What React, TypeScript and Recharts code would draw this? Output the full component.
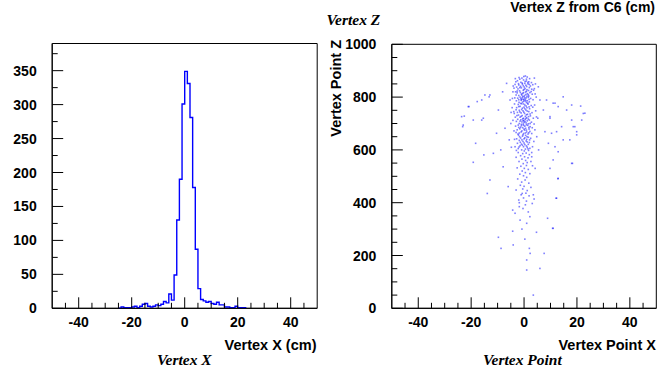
import React from 'react';
import { LineChart, Line, XAxis, YAxis, ReferenceArea, ScatterChart, Scatter } from 'recharts';

// ---------- Histogram: Vertex X ----------
const binLow = [-25, -24, -23, -22, -21, -20, -19, -18, -17, -16, -15, -14, -13, -12, -11, -10, -9, -8, -7, -6, -5, -4, -3, -2, -1, 0, 1, 2, 3, 4, 5, 6, 7, 8, 9, 10, 11, 12, 13, 14, 15, 16, 17, 18, 19, 20, 21, 22, 23];
const binCount = [0, 2, 1, 1, 1, 2, 3, 1, 3, 6, 7, 3, 2, 3, 5, 4, 6, 10, 8, 21, 12, 49, 130, 190, 301, 349, 331, 281, 178, 87, 29, 13, 11, 9, 10, 7, 6, 9, 5, 5, 2, 2, 1, 1, 3, 1, 1, 1, 0];

const xTicks = [-45, -40, -35, -30, -25, -20, -15, -10, -5, 0, 5, 10, 15, 20, 25, 30, 35, 40, 45];
const xLabels = [-40, -20, 0, 20, 40];
const histYTicks = [0, 25, 50, 75, 100, 125, 150, 175, 200, 225, 250, 275, 300, 325, 350, 375];
const histYLabels = [0, 50, 100, 150, 200, 250, 300, 350];

// ---------- Scatter: Vertex Point X vs Z ----------
const scatterYTicks = [0, 50, 100, 150, 200, 250, 300, 350, 400, 450, 500, 550, 600, 650, 700, 750, 800, 850, 900, 950, 1000];
const scatterYLabels = [0, 200, 400, 600, 800, 1000];

const coreHits: [number, number][] = [
  [0.5, 880], [-0.8, 872], [1.2, 876], [-1.6, 868], [2.1, 870],
  [-2.5, 862], [-0.2, 865], [0.9, 861], [1.8, 858], [-3.1, 858], [-1.2, 856], [2.8, 855], [0.3, 852],
  [-3.4, 848], [-2.0, 846], [-0.6, 849], [0.7, 845], [1.5, 850], [2.4, 842], [3.3, 847], [-1.3, 841], [-2.8, 838], [0.1, 838],
  [-3.8, 834], [-2.3, 831], [-1.0, 835], [0.4, 832], [1.1, 828], [2.0, 836], [2.9, 830], [-0.3, 826], [-1.7, 824], [3.6, 826],
  [-3.2, 820], [-2.6, 816], [-1.4, 818], [-0.5, 814], [0.6, 819], [1.3, 813], [2.2, 817], [3.1, 811], [-0.9, 808], [0.2, 806], [-2.0, 806], [1.8, 804],
  [-1.5, 800], [-0.7, 798], [0.0, 801], [0.8, 797], [1.6, 799], [-2.4, 796], [2.5, 795], [-3.5, 797], [-0.3, 792], [0.5, 790], [-1.1, 788], [1.2, 786], [3.4, 790], [-2.9, 786], [-0.1, 784], [2.0, 782], [-1.9, 780], [0.9, 779],
  [-3.6, 774], [-2.2, 772], [-0.9, 775], [0.3, 770], [1.5, 773], [2.7, 768], [-1.5, 765], [0.0, 762], [-0.6, 758], [1.1, 760], [-2.8, 760], [3.3, 762], [2.1, 756],
  [-3.0, 752], [-1.8, 750], [-0.4, 748], [0.7, 751], [1.8, 745], [-2.5, 742], [-1.1, 740], [0.2, 738], [3.0, 741], [-3.7, 738], [1.3, 735],
  [-2.1, 732], [-0.7, 730], [0.5, 727], [2.4, 729], [-1.5, 724], [-0.2, 720], [1.0, 722], [-3.3, 724], [3.5, 720],
  [-2.4, 716], [-1.2, 714], [-0.4, 712], [0.4, 715], [1.2, 710], [2.0, 713], [-0.8, 706], [0.0, 704], [0.8, 702], [-1.8, 700], [1.6, 699], [2.8, 705], [-2.9, 708], [-0.3, 698],
  [-2.2, 694], [-1.0, 692], [0.3, 690], [1.4, 693], [2.3, 688], [-3.2, 690], [-0.5, 684], [0.6, 682], [-1.6, 680], [1.9, 679], [3.1, 684],
  [-2.6, 676], [-0.8, 672], [0.2, 675], [1.0, 668], [2.2, 670], [-1.8, 664], [-0.2, 662], [1.5, 660], [-3.0, 666], [2.9, 662],
  [-2.1, 656], [-0.6, 652], [0.6, 655], [1.6, 648], [-1.3, 645], [0.0, 642], [2.5, 644], [-2.8, 642], [1.0, 640],
  [-1.8, 636], [-0.4, 632], [0.8, 634], [2.0, 628], [-2.5, 625], [-1.0, 622], [0.3, 620], [1.6, 621],
  [-1.5, 616], [-0.2, 612], [1.2, 610], [-2.2, 605], [0.5, 603], [2.2, 606], [-0.9, 600], [1.7, 598],
  [-0.1, 878], [0.9, 868], [-1.9, 874], [0.4, 859], [-0.7, 853], [1.4, 855], [-2.1, 851], [2.0, 848], [-0.3, 843], [1.0, 840],
  [-1.6, 836], [0.0, 829], [1.7, 825], [-2.6, 823], [0.9, 822], [-0.2, 817], [2.7, 821], [-1.0, 812], [1.6, 809], [-3.0, 808],
  [0.7, 810], [-0.5, 803], [1.1, 803], [-1.2, 794], [0.3, 796], [-0.9, 791], [1.9, 791], [0.0, 789], [-2.0, 790], [0.6, 785],
  [-0.6, 781], [1.4, 777], [-1.3, 776], [-0.2, 774], [0.8, 766], [-2.0, 764], [1.9, 763], [-0.9, 753], [0.3, 756], [1.2, 747],
  [-1.6, 744], [2.3, 736], [-0.1, 743], [-2.7, 730], [0.9, 733], [1.7, 726], [-1.1, 727], [-0.5, 718], [0.7, 719], [1.6, 717],
  [-1.5, 709], [0.4, 707], [-0.1, 710], [2.3, 700], [-1.0, 697], [0.9, 695], [-0.2, 693], [1.8, 685], [-1.3, 686], [0.0, 679],
  [-2.0, 685], [0.9, 675], [-1.1, 668], [0.5, 664], [1.8, 665], [-2.3, 660], [-0.4, 657], [1.1, 650], [-1.7, 650], [0.3, 646],
  [2.1, 638], [-0.8, 638], [1.2, 630], [-1.4, 629], [0.0, 626], [-0.6, 618], [0.9, 615], [-1.9, 611], [1.5, 604], [0.1, 596],
  [-4.5, 760], [4.6, 800], [-5.0, 700], [5.2, 720], [4.8, 650], [-4.2, 820], [4.3, 850], [-4.8, 610], [5.5, 600], [4.0, 770],
  [-4.1, 842], [3.9, 832], [-4.4, 795], [4.2, 812], [-3.9, 745], [4.4, 748], [-4.2, 712], [3.8, 698], [-3.8, 672], [4.1, 676],
  [-3.6, 640], [3.7, 632], [-3.4, 612], [3.2, 612], [-2.9, 598], [2.9, 590], [3.9, 872], [-3.3, 870], [4.7, 725], [-4.9, 742],
];

const tailHits: [number, number][] = [
  [-2.2, 590], [-0.5, 586], [0.8, 588], [2.0, 582], [-1.3, 578], [0.2, 574], [1.5, 570], [-3.0, 572], [-0.8, 565], [0.6, 560],
  [-1.9, 556], [1.2, 552], [2.6, 556], [-0.3, 548], [0.9, 541], [-1.2, 538], [3.2, 540], [-2.6, 532], [0.1, 530], [1.6, 526],
  [-0.7, 520], [0.5, 514], [-1.6, 508], [2.2, 510], [-0.2, 502], [1.0, 496], [-2.4, 490], [0.4, 486], [-0.9, 478], [1.8, 474],
  [-1.4, 466], [0.0, 462], [2.6, 458], [-0.5, 452], [1.2, 446], [-3.0, 448], [0.7, 436], [-1.1, 430], [1.9, 426], [-0.2, 418],
  [3.8, 414], [0.9, 406], [-1.8, 400],
  [-4.3, 372], [-3.4, 360], [-1.5, 334], [1.0, 322], [2.2, 347], [8.9, 341], [10.8, 303], [4.7, 288], [-4.3, 292], [-9.7, 269],
  [-8.7, 227], [-4.1, 240], [2.0, 227], [2.3, 208], [1.0, 183], [7.6, 208], [1.0, 145], [6.0, 151], [3.5, 50], [-0.7, 435],
  [3.5, 430], [3.1, 397], [-0.4, 378], [0.5, 392], [-2.0, 410], [1.6, 365], [-0.8, 300], [0.3, 262], [-1.8, 385],
];

const haloHits: [number, number][] = [
  [-23.2, 688], [-22.6, 728], [-20.8, 764], [-18.3, 625], [-19.2, 553], [-16.0, 789], [-15.4, 720], [-15.2, 581], [-13.2, 801], [-12.9, 486],
  [-13.9, 435], [-11.6, 587], [-10.4, 663], [-9.7, 751], [-8.1, 820], [-8.8, 600], [-7.9, 536], [-7.2, 682], [-6.6, 852], [-6.0, 461],
  [-5.3, 789], [-5.6, 638], [6.0, 789], [5.4, 839], [7.3, 751], [7.9, 669], [9.2, 625], [8.5, 789], [9.8, 720], [11.0, 777],
  [10.4, 663], [11.7, 612], [12.9, 492], [12.3, 417], [14.8, 801], [14.2, 688], [17.3, 638], [18.0, 713], [19.9, 657], [18.0, 549],
  [23.0, 739], [21.4, 766], [19.2, 688], [2.9, 574], [4.2, 530], [9.8, 530],
  [-23.6, 726], [-23.0, 694], [-21.1, 764], [-19.2, 713], [-16.0, 713], [-17.7, 783], [-14.8, 808], [-12.9, 808],
  [22.4, 738], [21.8, 713], [18.0, 770], [19.9, 669], [18.6, 688], [16.1, 751], [12.9, 764], [11.7, 777], [9.8, 726], [12.3, 669],
  [14.8, 638], [12.9, 593], [11.0, 562], [18.3, 549], [12.1, 417], [11.0, 303], [12.8, 491],
];

const histData = binLow.map((x, i) => ({ x, count: binCount[i] }));
const scatterData = [...coreHits, ...tailHits, ...haloHits].map(([x, z]) => ({ x, z }));

const SANS = '"Liberation Sans", Arial, Helvetica, sans-serif';
const SERIF = '"Liberation Serif", "Times New Roman", serif';
const MAJOR = 11;
const MINOR = 5.5;

function BottomTick(props: any) {
  const { x, y, payload } = props;
  const v = payload.value;
  const major = xLabels.includes(v);
  return (
    <g>
      <line x1={x} x2={x} y1={y} y2={y - (major ? MAJOR : MINOR)} stroke="#000" strokeWidth={1} />
      {major && (
        <text x={x} y={y + 18.7} textAnchor="middle" fontFamily={SANS} fontWeight="bold" fontSize={14} fill="#000">
          {v}
        </text>
      )}
    </g>
  );
}

function makeLeftTick(labels: number[]) {
  return function LeftTick(props: any) {
    const { x, y, payload } = props;
    const v = payload.value;
    const major = labels.includes(v);
    return (
      <g>
        <line x1={x} x2={x + (major ? MAJOR : MINOR)} y1={y} y2={y} stroke="#000" strokeWidth={1} />
        {major && (
          <text x={x - 15.5} y={y + 5} textAnchor="end" fontFamily={SANS} fontWeight="bold" fontSize={14} fill="#000">
            {v}
          </text>
        )}
      </g>
    );
  };
}

const HistYTick = makeLeftTick(histYLabels);
const ScatterYTick = makeLeftTick(scatterYLabels);

function Hit(props: any) {
  const { cx, cy } = props;
  return <rect x={cx - 0.8} y={cy - 0.8} width={1.6} height={1.6} fill="#0000ff" fillOpacity={0.5} />;
}

export default function App() {
  return (
    <div style={{ position: 'fixed', left: 0, top: 0, width: 660, height: 367, background: '#fff', overflow: 'hidden' }}>
      <div style={{ position: 'absolute', left: 0, top: 0 }}>
        <LineChart width={330} height={367} data={histData} margin={{ top: 43.5, right: 12.8, bottom: 0, left: 0 }}>
          <XAxis
            dataKey="x"
            type="number"
            domain={[-50, 50]}
            ticks={xTicks}
            interval={0}
            height={58.7}
            tickSize={0}
            tickMargin={0}
            tick={BottomTick}
            axisLine={{ stroke: '#000', strokeWidth: 1 }}
            tickLine={false}
          />
          <YAxis
            type="number"
            domain={[0, 390]}
            ticks={histYTicks}
            interval={0}
            width={52.2}
            tickSize={0}
            tickMargin={0}
            tick={HistYTick}
            axisLine={{ stroke: '#000', strokeWidth: 1 }}
            tickLine={false}
          />
          <ReferenceArea x1={-50} x2={50} y1={0} y2={390} fill="none" stroke="#000" strokeWidth={1} ifOverflow="visible" />
          <Line
            dataKey="count"
            type="stepAfter"
            stroke="#0000ff"
            strokeWidth={1.4}
            dot={false}
            activeDot={false}
            isAnimationActive={false}
          />
        </LineChart>
      </div>
      <div style={{ position: 'absolute', left: 330, top: 0 }}>
        <ScatterChart width={330} height={367} margin={{ top: 44.3, right: 3.7, bottom: 0, left: 0 }}>
          <XAxis
            dataKey="x"
            type="number"
            domain={[-50, 50]}
            ticks={xTicks}
            interval={0}
            height={58.7}
            tickSize={0}
            tickMargin={0}
            tick={BottomTick}
            axisLine={{ stroke: '#000', strokeWidth: 1 }}
            tickLine={false}
          />
          <YAxis
            dataKey="z"
            type="number"
            domain={[0, 1000]}
            ticks={scatterYTicks}
            interval={0}
            width={61.8}
            tickSize={0}
            tickMargin={0}
            tick={ScatterYTick}
            axisLine={{ stroke: '#000', strokeWidth: 1 }}
            tickLine={false}
          />
          <ReferenceArea x1={-50} x2={50} y1={0} y2={1000} fill="none" stroke="#000" strokeWidth={1} ifOverflow="visible" />
          <Scatter data={scatterData} shape={Hit} isAnimationActive={false} />
        </ScatterChart>
      </div>
      <svg width={660} height={367} style={{ position: 'absolute', left: 0, top: 0, pointerEvents: 'none' }}>
        <text x={655} y={12} textAnchor="end" fontFamily={SANS} fontWeight="bold" fontSize={14} fill="#000">
          Vertex Z from C6 (cm)
        </text>
        <text x={326.5} y={25} fontFamily={SERIF} fontStyle="italic" fontWeight="bold" fontSize={15.5} fill="#000">
          Vertex Z
        </text>
        <text x={316.5} y={350} textAnchor="end" fontFamily={SANS} fontWeight="bold" fontSize={14.5} fill="#000">
          Vertex X (cm)
        </text>
        <text x={157} y={364.5} fontFamily={SERIF} fontStyle="italic" fontWeight="bold" fontSize={15.5} fill="#000">
          Vertex X
        </text>
        <text x={656} y={350} textAnchor="end" fontFamily={SANS} fontWeight="bold" fontSize={14.5} fill="#000">
          Vertex Point X
        </text>
        <text x={483} y={364.5} fontFamily={SERIF} fontStyle="italic" fontWeight="bold" fontSize={15.5} fill="#000">
          Vertex Point
        </text>
        <text
          x={340.5}
          y={40}
          transform="rotate(-90 340.5 40)"
          textAnchor="end"
          fontFamily={SANS}
          fontWeight="bold"
          fontSize={14.5}
          fill="#000"
        >
          Vertex Point Z
        </text>
      </svg>
    </div>
  );
}
